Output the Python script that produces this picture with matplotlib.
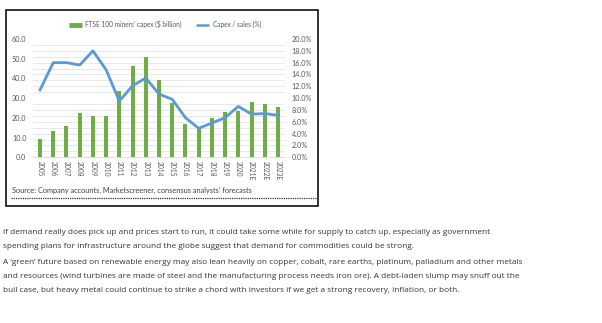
import matplotlib
matplotlib.use("Agg")
import matplotlib.pyplot as plt
import numpy as np
from matplotlib.ticker import FixedLocator, FuncFormatter
from matplotlib.lines import Line2D
from matplotlib.patches import Rectangle

years = ["2005", "2006", "2007", "2008", "2009", "2010", "2011", "2012", "2013", "2014",
         "2015", "2016", "2017", "2018", "2019", "2020", "2021E", "2022E", "2023E"]
capex_bn = [9.5, 13.2, 15.8, 22.5, 21.0, 21.2, 33.8, 46.2, 51.0, 39.3,
            27.6, 16.9, 15.0, 20.1, 23.1, 23.4, 27.8, 27.2, 25.3]
capex_sales_pct = [11.4, 16.0, 16.0, 15.6, 18.0, 14.8, 9.5, 12.1, 13.4, 10.7,
                   9.8, 6.7, 4.9, 5.8, 6.7, 8.6, 7.3, 7.4, 7.1]
left_ticks = [0, 10, 20, 30, 40, 50, 60]
right_ticks = [0, 2, 4, 6, 8, 10, 12, 14, 16, 18, 20]
legend_labels = ["FTSE 100 miners\u2019 capex ($ billion)", "Capex / sales (%)"]
source_text = "Source: Company accounts, Marketscreener, consensus analysts\u2019 forecasts"
paragraphs = [
    ["If demand really does pick up and prices start to run, it could take some while for supply to catch up, especially as government",
     "spending plans for infrastructure around the globe suggest that demand for commodities could be strong."],
    ["A \u2018green\u2019 future based on renewable energy may also lean heavily on copper, cobalt, rare earths, platinum, palladium and other metals",
     "and resources (wind turbines are made of steel and the manufacturing process needs iron ore). A debt-laden slump may snuff out the",
     "bull case, but heavy metal could continue to strike a chord with investors if we get a strong recovery, inflation, or both."],
]

W, H = 602, 323
fig = plt.figure(figsize=(W / 100, H / 100), dpi=100)
fig.patch.set_facecolor("white")

def fx(x):
    return x / W

def fy(y):
    return 1 - y / H

CHART_FONT = ["Lato", "DejaVu Sans"]
TEXT_FONT = ["Open Sans", "DejaVu Sans"]
GREEN = "#70AD47"
BLUE = "#5B9BD5"
TICKC = "#595959"

# chart frame
fig.patches.append(Rectangle((fx(6), fy(206)), fx(318) - fx(6), fy(10) - fy(206),
                             transform=fig.transFigure, fill=False, edgecolor="#222222",
                             linewidth=1.3, zorder=5))

ax_l, ax_r, ax_t, ax_b = 33.4, 284.6, 39.0, 157.3
ax = fig.add_axes([fx(ax_l), fy(ax_b), fx(ax_r) - fx(ax_l), fy(ax_t) - fy(ax_b)])
x = np.arange(len(years))
bars = ax.bar(x, capex_bn, width=0.3, color=GREEN, zorder=2)
ax.set_xlim(-0.5, len(years) - 0.5)
ax.set_ylim(0, 60)
ax.yaxis.set_major_locator(FixedLocator(left_ticks))
ax.yaxis.set_major_formatter(FuncFormatter(lambda v, p: f"{v:.1f}"))
ax.yaxis.set_minor_locator(FixedLocator(np.arange(0, 61, 3)))
ax.grid(which="minor", axis="y", color="#E4E4E4", linewidth=0.6)
ax.grid(which="major", axis="y", visible=False)
ax.set_axisbelow(True)
ax.set_xticks(x)
ax.set_xticklabels(years, rotation=-90, fontsize=4.8, color=TICKC, family=CHART_FONT)
for s in ["top", "right", "left"]:
    ax.spines[s].set_visible(False)
ax.spines["bottom"].set_color("#D9D9D9")
ax.spines["bottom"].set_linewidth(0.6)
ax.tick_params(axis="both", which="both", length=0)
ax.tick_params(axis="y", pad=5, labelsize=5.2, labelcolor=TICKC)
ax.tick_params(axis="x", pad=3)
for lab in ax.get_yticklabels():
    lab.set_family(CHART_FONT)

ax2 = ax.twinx()
line, = ax2.plot(x, capex_sales_pct, color=BLUE, linewidth=2.0, zorder=3)
ax2.set_ylim(0, 20)
ax2.yaxis.set_major_locator(FixedLocator(right_ticks))
ax2.yaxis.set_major_formatter(FuncFormatter(lambda v, p: f"{v:.1f}%"))
for s in ["top", "right", "left", "bottom"]:
    ax2.spines[s].set_visible(False)
ax2.tick_params(axis="y", length=0, pad=5, labelsize=5.2, labelcolor=TICKC)
for lab in ax2.get_yticklabels():
    lab.set_family(CHART_FONT)

leg_handles = [Line2D([0], [0], color=GREEN, linewidth=3.5, solid_capstyle="butt"),
               Line2D([0], [0], color=BLUE, linewidth=1.8, solid_capstyle="butt")]
fig.legend(leg_handles, legend_labels, loc="center", bbox_to_anchor=(fx(165), fy(24.5)),
           ncol=2, frameon=False, prop={"family": CHART_FONT, "size": 4.7},
           labelcolor=TICKC, handlelength=1.9, handletextpad=0.6, columnspacing=2.2)

fig.text(fx(12), fy(190.5), source_text, fontsize=5.3, color="#404040",
         family=CHART_FONT, va="center", ha="left")
fig.add_artist(Line2D([fx(11), fx(316)], [fy(197.5), fy(197.5)], transform=fig.transFigure,
                      color="#333333", linewidth=0.9, linestyle=(0, (1, 0.8))))

ys = [[233, 246.5], [263, 276.5, 290]]
for para, yl in zip(paragraphs, ys):
    for txt, yy in zip(para, yl):
        fig.text(fx(3), fy(yy), txt, fontsize=5.95, color="#333333", family=TEXT_FONT,
                 va="center", ha="left")

fig.savefig("out.png", dpi=100, facecolor="white")
